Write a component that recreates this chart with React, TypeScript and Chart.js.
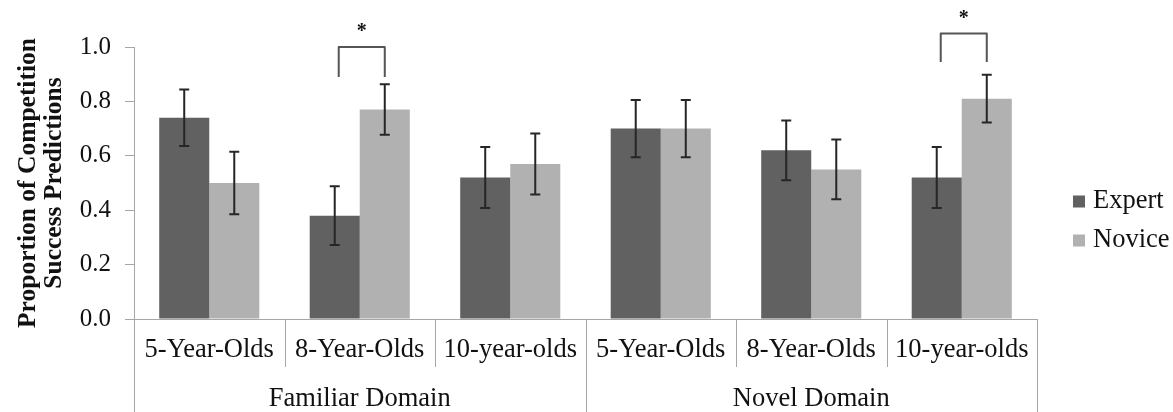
import React, { useEffect, useRef } from 'react';
import { Chart, registerables } from 'chart.js';

Chart.register(...registerables);

const ageGroups = ['5-Year-Olds', '8-Year-Olds', '10-year-olds', '5-Year-Olds', '8-Year-Olds', '10-year-olds'];
const domains = ['Familiar Domain', 'Novel Domain'];
const domainSpans = [3, 3];
const seriesNames = ['Expert', 'Novice'];
const expertValues = [0.74, 0.38, 0.52, 0.70, 0.62, 0.52];
const expertErrors = [0.104, 0.108, 0.112, 0.105, 0.11, 0.112];
const noviceValues = [0.50, 0.77, 0.57, 0.70, 0.55, 0.81];
const noviceErrors = [0.115, 0.093, 0.112, 0.105, 0.11, 0.088];
const yTickValues = [0, 0.2, 0.4, 0.6, 0.8, 1.0];
const sigIndex = [1, 5];
const sigTop = [1.0, 1.05];
const sigBottom = [0.89, 0.945];
const sigStar = [1.07, 1.12];

const FONT = "'Liberation Serif', 'Times New Roman', serif";
const EXPERT_COLOR = '#616161';
const NOVICE_COLOR = '#b1b1b1';
const AXIS_COLOR = '#a6a6a6';
const TEXT_COLOR = '#111111';
const LABEL_SIZE = 26.5;

const errorsBySeries = [expertErrors, noviceErrors];

const errorBarPlugin = {
  id: 'errorBars',
  afterDatasetsDraw(chart: any) {
    const { ctx } = chart;
    const y = chart.scales.y;
    ctx.save();
    ctx.strokeStyle = '#262626';
    ctx.lineWidth = 2;
    chart.data.datasets.forEach((ds: any, di: number) => {
      const meta = chart.getDatasetMeta(di);
      meta.data.forEach((el: any, i: number) => {
        const v = ds.data[i];
        const e = errorsBySeries[di][i];
        const yt = y.getPixelForValue(v + e);
        const yb = y.getPixelForValue(v - e);
        const x = el.x;
        ctx.beginPath();
        ctx.moveTo(x, yt);
        ctx.lineTo(x, yb);
        ctx.moveTo(x - 5, yt);
        ctx.lineTo(x + 5, yt);
        ctx.moveTo(x - 5, yb);
        ctx.lineTo(x + 5, yb);
        ctx.stroke();
      });
    });
    ctx.restore();
  },
};

const annotationPlugin = {
  id: 'annotations',
  afterDraw(chart: any) {
    const { ctx, chartArea } = chart;
    const x = chart.scales.x;
    const y = chart.scales.y;
    ctx.save();

    // significance brackets
    sigIndex.forEach((idx, k) => {
      const e = chart.getDatasetMeta(0).data[idx];
      const n = chart.getDatasetMeta(1).data[idx];
      const lx = e.x + 4;
      const rx = n.x;
      const yt = y.getPixelForValue(sigTop[k]);
      const yb = y.getPixelForValue(sigBottom[k]);
      ctx.strokeStyle = '#555555';
      ctx.lineWidth = 2;
      ctx.lineJoin = 'round';
      ctx.beginPath();
      ctx.moveTo(lx, yb);
      ctx.lineTo(lx, yt);
      ctx.lineTo(rx, yt);
      ctx.lineTo(rx, yb);
      ctx.stroke();
      ctx.fillStyle = TEXT_COLOR;
      ctx.font = `bold 20px ${FONT}`;
      ctx.textAlign = 'center';
      ctx.textBaseline = 'middle';
      ctx.fillText('*', (lx + rx) / 2, y.getPixelForValue(sigStar[k]) + 4);
    });

    // category separators and domain labels
    const n = ageGroups.length;
    const step = (x.right - x.left) / n;
    const bottom = chart.height;
    ctx.strokeStyle = AXIS_COLOR;
    ctx.lineWidth = 1;
    const boundaries: number[] = [0];
    let acc = 0;
    domainSpans.forEach((s) => { acc += s; boundaries.push(acc); });
    for (let i = 0; i <= n; i++) {
      const px = Math.round(x.left + i * step) + 0.5;
      const isGroup = boundaries.includes(i);
      ctx.beginPath();
      ctx.moveTo(px, chartArea.bottom);
      ctx.lineTo(px, isGroup ? bottom : chartArea.bottom + 48);
      ctx.stroke();
    }
    ctx.fillStyle = TEXT_COLOR;
    ctx.font = `${LABEL_SIZE}px ${FONT}`;
    ctx.textAlign = 'center';
    ctx.textBaseline = 'middle';
    domains.forEach((d, k) => {
      const start = boundaries[k];
      const end = boundaries[k + 1];
      const cx = x.left + ((start + end) / 2) * step;
      ctx.fillText(d, cx, chartArea.bottom + 80);
    });

    // legend
    const lx = chartArea.right + 36;
    const cy = (chartArea.top + chartArea.bottom) / 2 + 38;
    const colors = [EXPERT_COLOR, NOVICE_COLOR];
    ctx.textAlign = 'left';
    seriesNames.forEach((name, k) => {
      const ry = cy - 19.5 + k * 39;
      ctx.fillStyle = colors[k];
      ctx.fillRect(lx, ry - 6, 12, 12);
      ctx.fillStyle = TEXT_COLOR;
      ctx.fillText(name, lx + 20, ry);
    });

    ctx.restore();
  },
};

export default function App() {
  const ref = useRef<HTMLCanvasElement | null>(null);
  useEffect(() => {
    document.body.style.margin = '0';
    if (!ref.current) return;
    const chart = new Chart(ref.current, {
      type: 'bar',
      data: {
        labels: ageGroups,
        datasets: [
          {
            label: seriesNames[0],
            data: expertValues,
            backgroundColor: EXPERT_COLOR,
            borderWidth: 0,
            barPercentage: 1.0,
            categoryPercentage: 0.665,
          },
          {
            label: seriesNames[1],
            data: noviceValues,
            backgroundColor: NOVICE_COLOR,
            borderWidth: 0,
            barPercentage: 1.0,
            categoryPercentage: 0.665,
          },
        ],
      },
      options: {
        animation: false,
        responsive: false,
        maintainAspectRatio: false,
        layout: { padding: { top: 47, right: 136, bottom: 0, left: 0 } },
        plugins: {
          legend: { display: false },
          tooltip: { enabled: false },
        },
        scales: {
          x: {
            grid: { display: false, drawTicks: false },
            border: { display: true, color: AXIS_COLOR, width: 1 },
            ticks: {
              color: TEXT_COLOR,
              font: { family: FONT, size: LABEL_SIZE },
              padding: 15,
              maxRotation: 0,
              autoSkip: false,
            },
            afterFit(scale: any) {
              scale.height = 93;
            },
          },
          y: {
            min: 0,
            max: 1,
            grid: { display: true, drawOnChartArea: false, drawTicks: true, tickLength: 9, color: AXIS_COLOR },
            border: { display: true, color: AXIS_COLOR, width: 1 },
            afterBuildTicks(scale: any) {
              scale.ticks = yTickValues.map((v) => ({ value: v }));
            },
            ticks: {
              color: TEXT_COLOR,
              font: { family: FONT, size: 25 },
              padding: 14,
              callback: (v: any) => Number(v).toFixed(1),
            },
            title: {
              display: true,
              text: ['Proportion of Competition', 'Success Predictions'],
              color: TEXT_COLOR,
              font: { family: FONT, size: 25.5, weight: 'bold', lineHeight: 1.04 },
              padding: { top: 15, bottom: 0 },
            },
            afterFit(scale: any) {
              scale.width = 134;
            },
          },
        },
      },
      plugins: [errorBarPlugin, annotationPlugin],
    });
    return () => chart.destroy();
  }, []);
  return (
    <div style={{ width: 1173, height: 412 }}>
      <canvas ref={ref} width={1173} height={412} style={{ display: 'block' }} />
    </div>
  );
}
